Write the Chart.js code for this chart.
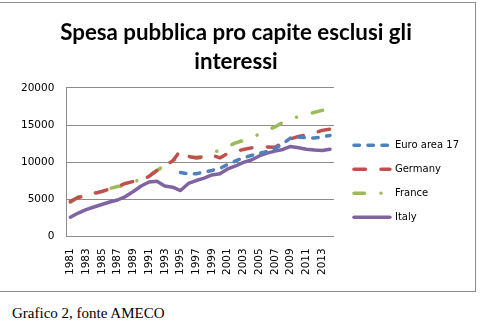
<!DOCTYPE html>
<html>
<head>
<meta charset="utf-8">
<script src="https://cdn.jsdelivr.net/npm/chart.js@4/dist/chart.umd.min.js"></script>
<style>
  html, body { margin: 0; padding: 0; background: #fff; width: 492px; height: 331px; overflow: hidden; }
  #frame { position: absolute; left: 0; top: 2px; width: 475px; height: 288px;
           border-top: 1px solid #8c8c8c; border-right: 1px solid #8c8c8c; border-bottom: 1px solid #8c8c8c; }
  #c { display: block; }
  #note { position: absolute; left: 12px; top: 304px; font-family: "Liberation Serif", "Times New Roman", serif;
          font-size: 15px; color: #000; line-height: 18px; white-space: nowrap; }
</style>
</head>
<body>
<div id="frame"><canvas id="c" width="475" height="288"></canvas></div>
<div id="note">Grafico 2, fonte AMECO</div>
<script>
const years = ['1981','1982','1983','1984','1985','1986','1987','1988','1989','1990',
  '1991','1992','1993','1994','1995','1996','1997','1998','1999','2000',
  '2001','2002','2003','2004','2005','2006','2007','2008','2009','2010',
  '2011','2012','2013','2014'];

const euroArea17 = [null,null,null,null,null,null,null,null,null,null,
  null,null,null,null,8600,8400,8430,8650,8880,9150,
  9690,10160,10590,10900,11170,11440,11850,12450,13270,13370,
  13290,13240,13400,13600];

const germany = [4700,5230,5500,5770,6040,6380,6710,7120,7390,7660,
  8070,8880,9550,10160,11580,10770,10560,10700,10970,10560,
  11170,11440,11710,11920,11980,12050,12000,12590,13130,13470,
  13670,13940,14280,14450];

const france = [4600,5300,5570,5840,6110,6440,6710,6850,7390,7620,
  8200,8880,9550,10230,10500,10670,10670,10770,11300,11580,
  12120,12590,12930,13400,13740,14280,14750,15360,15900,16100,
  16410,16710,16980,17200];

const italy = [2565,3130,3600,3950,4280,4620,4890,5360,6040,6780,
  7320,7430,6780,6620,6170,7120,7520,7840,8270,8430,
  9080,9480,9960,10290,10830,11210,11480,11710,12120,11940,
  11750,11650,11580,11750];

const seriesNames = ['Euro area 17', 'Germany', 'France', 'Italy'];
const titleLines = ['Spesa pubblica pro capite esclusi gli', 'interessi'];
const yTicks = [0, 5000, 10000, 15000, 20000];

Chart.defaults.font.family = '"DejaVu Sans", Verdana, sans-serif';
Chart.defaults.color = '#000';

const LW = 3.5;
const datasets = [
  { label: seriesNames[0], data: euroArea17, borderColor: '#4F81BD', borderDash: [5.5, 8.5], borderCapStyle: 'round' },
  { label: seriesNames[1], data: germany, borderColor: '#C0504D', borderDash: [11.5, 15.5], borderCapStyle: 'round' },
  { label: seriesNames[2], data: france, borderColor: '#9BBB59', borderDash: [10.5, 16.5, 0.01, 16.5], borderCapStyle: 'round' },
  { label: seriesNames[3], data: italy, borderColor: '#8064A2', borderDash: [], borderCapStyle: 'round' }
].map(d => Object.assign({
  borderWidth: LW, pointRadius: 0, pointHoverRadius: 0, tension: 0, fill: false,
  spanGaps: false, borderJoinStyle: 'round', backgroundColor: d.borderColor
}, d));

const legendNudge = {
  id: 'legendNudge',
  afterLayout(chart) {
    const lg = chart.legend;
    if (lg) { lg.left += 6; lg.right += 6; }
  }
};

new Chart(document.getElementById('c'), {
  type: 'line',
  data: { labels: years, datasets },
  options: {
    responsive: false,
    animation: false,
    devicePixelRatio: 1,
    layout: { padding: { left: 9, right: 12, top: 0, bottom: 4 } },
    plugins: {
      title: {
        display: true,
        text: titleLines,
        font: { family: 'Lato, "Open Sans", sans-serif', size: 22.3, weight: 'bold', lineHeight: 1.3 },
        color: '#000',
        padding: { top: 15, bottom: 12 }
      },
      legend: {
        display: true,
        position: 'right',
        align: 'end',
        fullSize: false,
        maxWidth: 130,
        labels: {
          usePointStyle: true,
          pointStyleWidth: 36,
          padding: 14,
          font: { size: 10 },
          color: '#000',
          generateLabels(chart) {
            return chart.data.datasets.map((ds, i) => ({
              text: ds.label,
              fillStyle: ds.borderColor,
              strokeStyle: ds.borderColor,
              lineWidth: LW,
              lineDash: ds.borderDash,
              lineCap: 'round',
              pointStyle: 'line',
              hidden: false,
              datasetIndex: i
            }));
          }
        }
      },
      tooltip: { enabled: false }
    },
    scales: {
      x: {
        offset: true,
        grid: { display: false, drawTicks: false },
        border: { display: true, color: '#8c8c8c', width: 1 },
        ticks: {
          autoSkip: false, minRotation: 90, maxRotation: 90, padding: 12,
          font: { size: 10.5 }, color: '#000',
          callback(v, i) { return i % 2 === 0 ? years[i] : ''; }
        }
      },
      y: {
        min: 0, max: 20000,
        afterBuildTicks(scale) { scale.ticks = yTicks.map(v => ({ value: v })); },
        grid: { color: '#8c8c8c', lineWidth: 1, drawTicks: false },
        border: { display: true, color: '#8c8c8c', width: 1 },
        ticks: { padding: 12, font: { size: 10.5 }, color: '#000', callback(v) { return String(v); } }
      }
    }
  },
  plugins: [legendNudge]
});
</script>
</body>
</html>
